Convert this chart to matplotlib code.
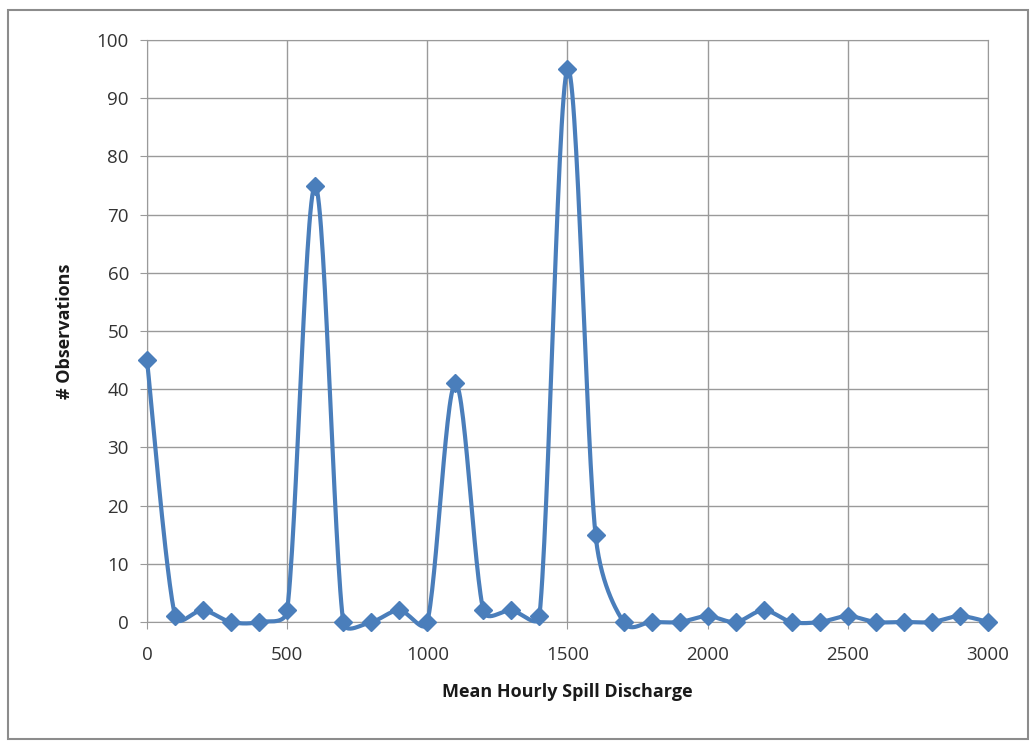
import numpy as np
import matplotlib.pyplot as plt
from matplotlib.patches import Rectangle

discharge = list(range(0, 3001, 100))
observations = [45, 1, 2, 0, 0, 2, 75, 0, 0, 2, 0, 41, 2, 2, 1, 95, 15, 0,
                0, 0, 1, 0, 2, 0, 0, 1, 0, 0, 0, 1, 0]


def smooth(x, y, sx, sy, n=30):
    # Excel style smoothed line: bezier segments, control arms = tangent/6,
    # capped at half the neighbouring segment (worked out in pixel space)
    p = np.column_stack([np.asarray(x, float) * sx, np.asarray(y, float) * sy])
    m = len(p)
    t = np.linspace(0, 1, n)[:, None]
    out = []
    for i in range(m - 1):
        a, d = p[i], p[i + 1]
        ta = p[min(i + 1, m - 1)] - p[max(i - 1, 0)]
        td = p[min(i + 2, m - 1)] - p[i]
        seg = np.linalg.norm(d - a)
        la, ld = np.linalg.norm(ta), np.linalg.norm(td)
        ca = a + (ta / la) * min(la / 6, seg / 2) if la else a
        cd = d - (td / ld) * min(ld / 6, seg / 2) if ld else d
        b = (1 - t) ** 3 * a + 3 * (1 - t) ** 2 * t * ca + 3 * (1 - t) * t ** 2 * cd + t ** 3 * d
        out.append(b)
    b = np.vstack(out)
    return b[:, 0] / sx, b[:, 1] / sy


plt.rcParams["font.family"] = ["Open Sans", "DejaVu Sans"]

fig = plt.figure(figsize=(10.3, 7.41), dpi=100)
fig.patches.append(Rectangle((0.008, 0.003), 0.99, 0.984, transform=fig.transFigure,
                             fill=False, edgecolor="#8c8c8c", linewidth=1.5))
ax = fig.add_axes([0.1427, 0.1606, 0.8165, 0.7854])

cx, cy = smooth(discharge, observations, 841 / 3000, 582 / 100)
color = "#4a7ebb"
ax.plot(cx, cy, color=color, linewidth=3, zorder=3, clip_on=False)
ax.plot(discharge, observations, linestyle="none", marker="D", markersize=9.5,
        color=color, zorder=4, clip_on=False)

ax.set_xlim(0, 3000)
ax.set_ylim(0, 100)
ax.set_xticks(range(0, 3001, 500))
ax.set_yticks(range(0, 101, 10))
ax.grid(True, color="#9a9a9a", linewidth=1)
ax.set_axisbelow(True)
for s in ax.spines.values():
    s.set_color("#9a9a9a")
ax.tick_params(colors="#9a9a9a", length=5, labelsize=13.5, labelcolor="#333333")
ax.tick_params(axis="x", pad=12)
ax.tick_params(axis="y", pad=8)
ax.set_xlabel("Mean Hourly Spill Discharge", fontsize=13, fontweight="bold",
              labelpad=14, color="#1a1a1a")
ax.set_ylabel("# Observations", fontsize=13, fontweight="bold", labelpad=16,
              color="#1a1a1a")

fig.savefig("out.png", dpi=100)
